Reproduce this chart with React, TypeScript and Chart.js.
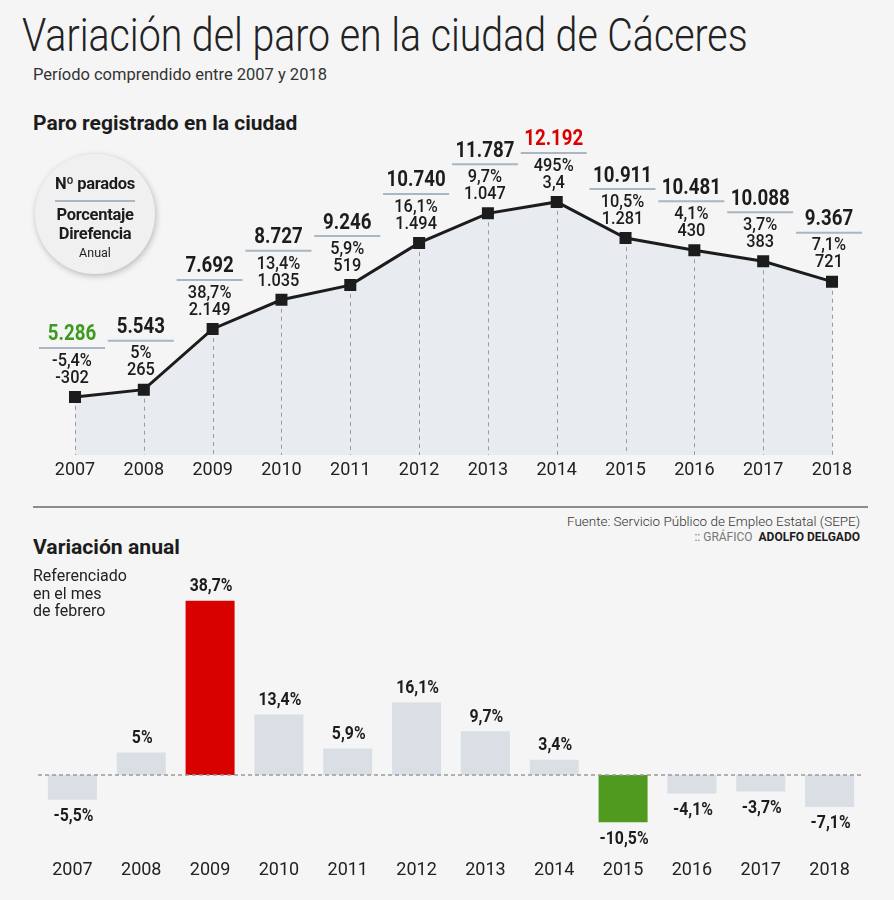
import React, { useEffect, useLayoutEffect, useRef, useState } from "react";
import { Chart, registerables } from "chart.js";

Chart.register(...registerables);

const years = ["2007", "2008", "2009", "2010", "2011", "2012", "2013", "2014", "2015", "2016", "2017", "2018"];
const parados = [5286, 5543, 7692, 8727, 9246, 10740, 11787, 12192, 10911, 10481, 10088, 9367];
const pctLabels = ["-5,4%", "5%", "38,7%", "13,4%", "5,9%", "16,1%", "9,7%", "495%", "10,5%", "4,1%", "3,7%", "7,1%"];
const diffLabels = ["-302", "265", "2.149", "1.035", "519", "1.494", "1.047", "3,4", "1.281", "430", "383", "721"];
const variacion = [-5.5, 5, 38.7, 13.4, 5.9, 16.1, 9.7, 3.4, -10.5, -4.1, -3.7, -7.1];

const FONT = "Roboto, 'Noto Sans', sans-serif";
const INK = "#1c1c1c";
const RED = "#d90000";
const GREEN = "#4f9a1f";
const GREEN_TXT = "#3c9a1c";
const BAR = "#d9dfe5";
const RULE = "#a9b6c4";

function fmtMiles(n: number): string {
  const s = Math.abs(Math.round(n)).toString();
  let out = "";
  for (let i = 0; i < s.length; i++) {
    if (i > 0 && (s.length - i) % 3 === 0) out += ".";
    out += s[i];
  }
  return (n < 0 ? "-" : "") + out;
}

function txt(ctx: CanvasRenderingContext2D, t: string, x: number, y: number, font: string, color: string, sx = 1) {
  ctx.save();
  ctx.translate(x, y);
  ctx.scale(sx, 1);
  ctx.font = font;
  ctx.fillStyle = color;
  ctx.textAlign = "center";
  ctx.textBaseline = "middle";
  ctx.fillText(t, 0, 0);
  ctx.restore();
}

function Fit({ w, style, children, right }: { w: number; style: any; children: any; right?: boolean }) {
  const ref = useRef<HTMLSpanElement>(null);
  const [s, setS] = useState(1);
  useLayoutEffect(() => {
    if (ref.current) {
      const nw = ref.current.offsetWidth;
      if (nw > 0) setS(w / nw);
    }
  }, [w]);
  return (
    <span
      ref={ref}
      style={{
        ...style,
        display: "inline-block",
        whiteSpace: "nowrap",
        transform: `scaleX(${s})`,
        transformOrigin: right ? "right center" : "left center",
      }}
    >
      {children}
    </span>
  );
}

const lineLabelsPlugin = {
  id: "lineLabels",
  afterDatasetsDraw(chart: any) {
    const ctx = chart.ctx as CanvasRenderingContext2D;
    const meta = chart.getDatasetMeta(0);
    const bottom = chart.chartArea.bottom;
    ctx.save();
    ctx.strokeStyle = "#9a9a9a";
    ctx.lineWidth = 1;
    ctx.setLineDash([4, 4]);
    meta.data.forEach((p: any) => {
      ctx.beginPath();
      ctx.moveTo(Math.round(p.x) + 0.5, p.y + 9);
      ctx.lineTo(Math.round(p.x) + 0.5, bottom);
      ctx.stroke();
    });
    ctx.restore();
    meta.data.forEach((p: any, i: number) => {
      const x = p.x - 3;
      const y = p.y;
      ctx.save();
      ctx.strokeStyle = RULE;
      ctx.lineWidth = 2;
      ctx.beginPath();
      ctx.moveTo(x - 33, y - 49);
      ctx.lineTo(x + 33, y - 49);
      ctx.stroke();
      ctx.restore();
      const col = i === 0 ? GREEN_TXT : i === 7 ? RED : INK;
      txt(ctx, fmtMiles(parados[i]), x, y - 62, `bold 22px ${FONT}`, col, 0.85);
      txt(ctx, pctLabels[i], x, y - 36, `500 19px ${FONT}`, INK, 0.86);
      txt(ctx, diffLabels[i], x, y - 19, `500 19px ${FONT}`, INK, 0.86);
    });
  },
};

const barLabelsPlugin = {
  id: "barLabels",
  afterDatasetsDraw(chart: any) {
    const ctx = chart.ctx as CanvasRenderingContext2D;
    const meta = chart.getDatasetMeta(0);
    const y0 = chart.scales.y.getPixelForValue(0);
    ctx.save();
    ctx.strokeStyle = "#9a9a9a";
    ctx.lineWidth = 1.5;
    ctx.setLineDash([4, 3]);
    ctx.beginPath();
    ctx.moveTo(chart.chartArea.left, y0);
    ctx.lineTo(chart.chartArea.right, y0);
    ctx.stroke();
    ctx.restore();
    meta.data.forEach((b: any, i: number) => {
      const v = variacion[i];
      const label = v.toString().replace(".", ",") + "%";
      const y = v >= 0 ? b.y - 14 : b.y + 17;
      txt(ctx, label, b.x + 1, y, `bold 18px ${FONT}`, INK, 0.88);
    });
  },
};

function LineChart() {
  const ref = useRef<HTMLCanvasElement>(null);
  useEffect(() => {
    const chart = new Chart(ref.current!, {
      type: "line",
      data: {
        labels: years,
        datasets: [
          {
            data: parados,
            borderColor: INK,
            borderWidth: 3,
            fill: "start",
            backgroundColor: "#e8ecf0",
            pointStyle: "rect",
            pointRadius: 8.5,
            pointBackgroundColor: INK,
            pointBorderColor: INK,
            pointBorderWidth: 0,
            tension: 0,
          },
        ],
      },
      options: {
        animation: false,
        responsive: false,
        layout: { padding: { left: 75, right: 62, top: 40, bottom: 0 } },
        plugins: { legend: { display: false }, tooltip: { enabled: false } },
        scales: {
          x: {
            type: "category",
            offset: false,
            grid: { display: false, drawTicks: false },
            border: { display: false },
            ticks: { font: { family: FONT, size: 18 }, color: "#222", padding: 5, maxRotation: 0, autoSkip: false },
            afterFit: (s: any) => {
              s.height = 45;
            },
          },
          y: { display: false, min: 3230, max: 14030 },
        },
      },
      plugins: [lineLabelsPlugin],
    } as any);
    return () => chart.destroy();
  }, []);
  return <canvas ref={ref} width={894} height={390} style={{ position: "absolute", left: 0, top: 110, width: 894, height: 390 }} />;
}

function BarChart() {
  const ref = useRef<HTMLCanvasElement>(null);
  useEffect(() => {
    const colors = years.map((y) => (y === "2009" ? RED : y === "2015" ? GREEN : BAR));
    const chart = new Chart(ref.current!, {
      type: "bar",
      data: {
        labels: years,
        datasets: [
          {
            data: variacion,
            backgroundColor: colors,
            borderWidth: 0,
            categoryPercentage: 1,
            barPercentage: 0.712,
          },
        ],
      },
      options: {
        animation: false,
        responsive: false,
        layout: { padding: { left: 38, right: 30, top: 34.8, bottom: 0 } },
        plugins: { legend: { display: false }, tooltip: { enabled: false } },
        scales: {
          x: {
            grid: { display: false, drawTicks: false },
            border: { display: false },
            ticks: { font: { family: FONT, size: 18 }, color: "#222", padding: 31, maxRotation: 0, autoSkip: false },
            afterFit: (s: any) => {
              s.height = 71;
            },
          },
          y: { display: false, min: -12, max: 40 },
        },
      },
      plugins: [barLabelsPlugin],
    } as any);
    return () => chart.destroy();
  }, []);
  return <canvas ref={ref} width={894} height={340} style={{ position: "absolute", left: 0, top: 560, width: 894, height: 340 }} />;
}

export default function App() {
  const abs = (left: number, top: number, extra: any = {}) => ({ position: "absolute" as const, left, top, lineHeight: 1, ...extra });
  return (
    <div style={{ position: "absolute", left: 0, top: 0, width: 894, height: 900, background: "#f5f5f5", fontFamily: FONT, color: INK, overflow: "hidden" }}>
      <div style={abs(22, 12)}>
        <Fit w={726} style={{ fontSize: 46, fontWeight: 300, color: "#222" }}>
          Variación del paro en la ciudad de Cáceres
        </Fit>
      </div>
      <div style={abs(33, 67)}>
        <Fit w={294} style={{ fontSize: 16, fontWeight: 400, color: "#333" }}>
          Período comprendido entre 2007 y 2018
        </Fit>
      </div>
      <div style={abs(33, 113)}>
        <Fit w={264} style={{ fontSize: 21, fontWeight: 700, color: INK }}>
          Paro registrado en la ciudad
        </Fit>
      </div>

      <LineChart />

      <div
        style={{
          position: "absolute",
          left: 35,
          top: 154,
          width: 120,
          height: 120,
          borderRadius: "50%",
          background: "#f0f0f0",
          boxShadow: "1px 2px 6px rgba(0,0,0,0.25)",
          textAlign: "center",
        }}
      >
        <div style={{ position: "absolute", left: 0, right: 0, top: 22, fontSize: 16.5, fontWeight: 700, lineHeight: 1, letterSpacing: -0.3 }}>Nº parados</div>
        <div style={{ position: "absolute", left: 20, right: 20, top: 46, height: 2, background: RULE }} />
        <div style={{ position: "absolute", left: 0, right: 0, top: 53, fontSize: 16.5, fontWeight: 700, lineHeight: 1, letterSpacing: -0.3 }}>Porcentaje</div>
        <div style={{ position: "absolute", left: 0, right: 0, top: 72, fontSize: 16.5, fontWeight: 700, lineHeight: 1, letterSpacing: -0.3 }}>Direfencia</div>
        <div style={{ position: "absolute", left: 0, right: 0, top: 93, fontSize: 12.5, fontWeight: 400, lineHeight: 1 }}>Anual</div>
      </div>

      <div style={{ position: "absolute", left: 33, top: 506, width: 835, height: 1.5, background: "#8c8c8c" }} />
      <div style={{ position: "absolute", right: 34, top: 513, lineHeight: 1 }}>
        <Fit w={293} right style={{ fontSize: 13, fontWeight: 300, color: "#333" }}>
          Fuente: Servicio Público de Empleo Estatal (SEPE)
        </Fit>
      </div>
      <div style={{ position: "absolute", right: 34, top: 531, lineHeight: 1, fontSize: 12, color: "#777", whiteSpace: "nowrap" }}>
        :: GRÁFICO&nbsp;&nbsp;<b style={{ color: INK, fontWeight: 700 }}>ADOLFO DELGADO</b>
      </div>

      <div style={abs(33, 537)}>
        <Fit w={147} style={{ fontSize: 21, fontWeight: 700, color: INK }}>
          Variación anual
        </Fit>
      </div>

      <BarChart />

      <div style={abs(33, 567, { fontSize: 16, color: "#222", lineHeight: "17.5px" })}>
        Referenciado
        <br />
        en el mes
        <br />
        de febrero
      </div>
    </div>
  );
}
